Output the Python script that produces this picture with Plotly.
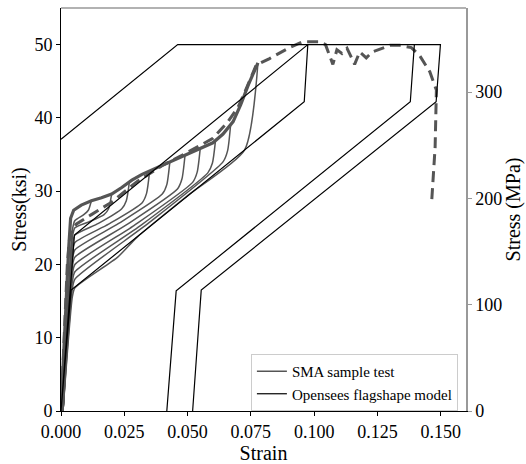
import plotly.graph_objects as go

KSI_TO_MPA = 6.89476

# ---------------- SMA sample test (grey) ----------------
# loading envelope (reached by every reloading branch)
env_strain = [0, 0.0015, 0.003, 0.0038, 0.005, 0.008, 0.012, 0.016, 0.020, 0.024,
              0.028, 0.032, 0.036, 0.040, 0.045, 0.050, 0.055, 0.060, 0.064,
              0.068, 0.071, 0.074, 0.0778]
env_stress = [0, 12.0, 22.0, 26.3, 27.4, 28.1, 28.7, 29.1, 29.6, 30.5,
              31.5, 32.3, 32.9, 33.5, 34.3, 35.0, 35.8, 36.6, 37.8,
              39.5, 41.8, 44.5, 47.5]

# unloading branches of the cyclic test, one list per cycle
unload_strain = [
    [0.012, 0.0108, 0.009, 0.0055, 0.0045, 0.0008],
    [0.020, 0.0188, 0.017, 0.0110, 0.0055, 0.0045, 0.0008],
    [0.027, 0.0258, 0.024, 0.0148, 0.0055, 0.0045, 0.0008],
    [0.035, 0.0338, 0.032, 0.0188, 0.0055, 0.0045, 0.0008],
    [0.043, 0.0418, 0.040, 0.0228, 0.0055, 0.0045, 0.0008],
    [0.049, 0.0478, 0.046, 0.0258, 0.0055, 0.0045, 0.0008],
    [0.055, 0.0538, 0.052, 0.0288, 0.0055, 0.0045, 0.0008],
    [0.061, 0.0598, 0.058, 0.0318, 0.0055, 0.0045, 0.0008],
    [0.067, 0.0658, 0.064, 0.0348, 0.0055, 0.0045, 0.0008],
    [0.0778, 0.0725, 0.0500, 0.0300, 0.0224, 0.0055, 0.0045, 0.0008],
]
unload_stress = [
    [28.7, 27.4, 26.8, 26.0, 24.7, 0],
    [29.6, 27.6, 26.8, 25.8, 25.0, 23.7, 0],
    [31.2, 28.7, 27.6, 25.6, 24.0, 22.7, 0],
    [32.7, 29.7, 28.4, 25.5, 23.0, 21.7, 0],
    [34.0, 30.9, 29.6, 25.6, 22.0, 20.7, 0],
    [34.9, 31.7, 30.3, 25.4, 21.0, 19.7, 0],
    [35.8, 32.6, 31.2, 25.3, 20.0, 18.7, 0],
    [36.8, 33.8, 32.5, 25.4, 19.0, 17.7, 0],
    [39.0, 35.5, 34.0, 25.7, 18.0, 16.7, 0],
    [47.5, 35.6, 29.4, 23.7, 21.0, 16.8, 15.6, 0],
]

# monotonic test to failure (dashed grey)
mono_strain = [0, 0.0025, 0.0035, 0.006, 0.012, 0.020, 0.030, 0.040, 0.050, 0.060,
               0.066, 0.070, 0.0726, 0.0771, 0.0824, 0.0903, 0.0956, 0.1022,
               0.1045, 0.1060, 0.1074, 0.1090, 0.1110, 0.1130, 0.1150, 0.1160,
               0.1180, 0.1206, 0.1230, 0.1246, 0.1300, 0.1338, 0.1384, 0.1417,
               0.1457, 0.1483, 0.1478, 0.1464]
mono_stress = [0, 20.0, 24.0, 25.5, 26.8, 28.5, 31.3, 33.5, 35.3, 37.2,
               39.5, 41.5, 43.5, 47.2, 48.1, 49.6, 50.4, 50.4,
               50.0, 48.5, 47.3, 49.3, 48.8, 49.5, 48.0, 47.3,
               49.0, 48.2, 49.0, 49.2, 49.9, 49.9, 49.6, 48.5,
               46.3, 43.8, 36.0, 28.4]

# ---------------- OpenSees flag-shape model (black) ----------------
model_strain = [0, 0.0053, 0.0975, 0.0961, 0.004, 0, None,
                0, 0.0461, 0.1499, 0.1482, 0.0554, 0.052, None,
                0.1396, 0.1380, 0.0455, 0.0418]
model_stress = [0, 24.0, 50.0, 42.2, 16.5, 0, None,
                37.1, 50.0, 50.0, 42.2, 16.5, 0, None,
                50.0, 42.2, 16.4, 0]

x_ticks = [0, 0.025, 0.05, 0.075, 0.1, 0.125, 0.15]
y_ticks_ksi = [0, 10, 20, 30, 40, 50]
y_ticks_mpa = [0, 100, 200, 300]

GREY = "#555555"
FONT = "Liberation Serif"

fig = go.Figure()

# cyclic unloading branches as one trace
us, uy = [], []
for xs, ys in zip(unload_strain, unload_stress):
    us += xs + [None]
    uy += ys + [None]

fig.add_trace(go.Scatter(x=us, y=uy, mode="lines", name="SMA sample test",
                         line=dict(color=GREY, width=1.5, shape="spline", smoothing=0.6),
                         legendgroup="sma", connectgaps=False))
fig.add_trace(go.Scatter(x=env_strain, y=env_stress, mode="lines", showlegend=False,
                         line=dict(color=GREY, width=3.2), legendgroup="sma"))
fig.add_trace(go.Scatter(x=mono_strain, y=mono_stress, mode="lines", showlegend=False,
                         line=dict(color=GREY, width=3, dash="11px,6px")))
fig.add_trace(go.Scatter(x=model_strain, y=model_stress, mode="lines",
                         name="Opensees flagshape model",
                         line=dict(color="black", width=1.2)))
# invisible trace to carry the MPa axis
fig.add_trace(go.Scatter(x=[0], y=[0], yaxis="y2", mode="markers",
                         marker=dict(opacity=0), showlegend=False, hoverinfo="skip"))

tickfont = dict(family=FONT, size=18, color="black")
titlefont = dict(family=FONT, size=20, color="black")
fig.update_layout(
    width=526, height=464,
    margin=dict(l=61, r=60, t=8, b=49),
    paper_bgcolor="white", plot_bgcolor="white",
    font=dict(family=FONT, size=18, color="black"),
    xaxis=dict(range=[0, 0.16], tickvals=x_ticks, tickformat=".3f",
               showgrid=False, zeroline=False, showline=True, linecolor="black",
               linewidth=1, ticks="outside", ticklen=4, tickcolor="black",
               tickfont=tickfont,
               title=dict(text="Strain", font=titlefont, standoff=0)),
    yaxis=dict(range=[0, 55], tickvals=y_ticks_ksi, showgrid=False, zeroline=False,
               showline=True, linecolor="black", linewidth=1, ticks="outside",
               ticklen=4, tickcolor="black", tickfont=tickfont,
               title=dict(text="Stress(ksi)", font=titlefont, standoff=2)),
    yaxis2=dict(range=[0, 55 * KSI_TO_MPA], tickvals=y_ticks_mpa, overlaying="y",
                side="right", showgrid=False, zeroline=False, showline=True,
                linecolor="#999999", linewidth=1.5, ticks="outside", ticklen=4,
                tickcolor="#999999", tickfont=tickfont,
                title=dict(text="Stress (MPa)", font=titlefont, standoff=2)),
    legend=dict(x=0.98, y=0.0, xanchor="right", yanchor="bottom",
                bgcolor="rgba(255,255,255,0.85)", bordercolor="#cccccc", borderwidth=1,
                font=dict(family=FONT, size=15), tracegroupgap=0),
    showlegend=True,
)
fig.add_shape(type="line", xref="paper", yref="paper", x0=0, x1=1, y0=1, y1=1,
              line=dict(color="#999999", width=1.5))

fig.write_html("out.html")
